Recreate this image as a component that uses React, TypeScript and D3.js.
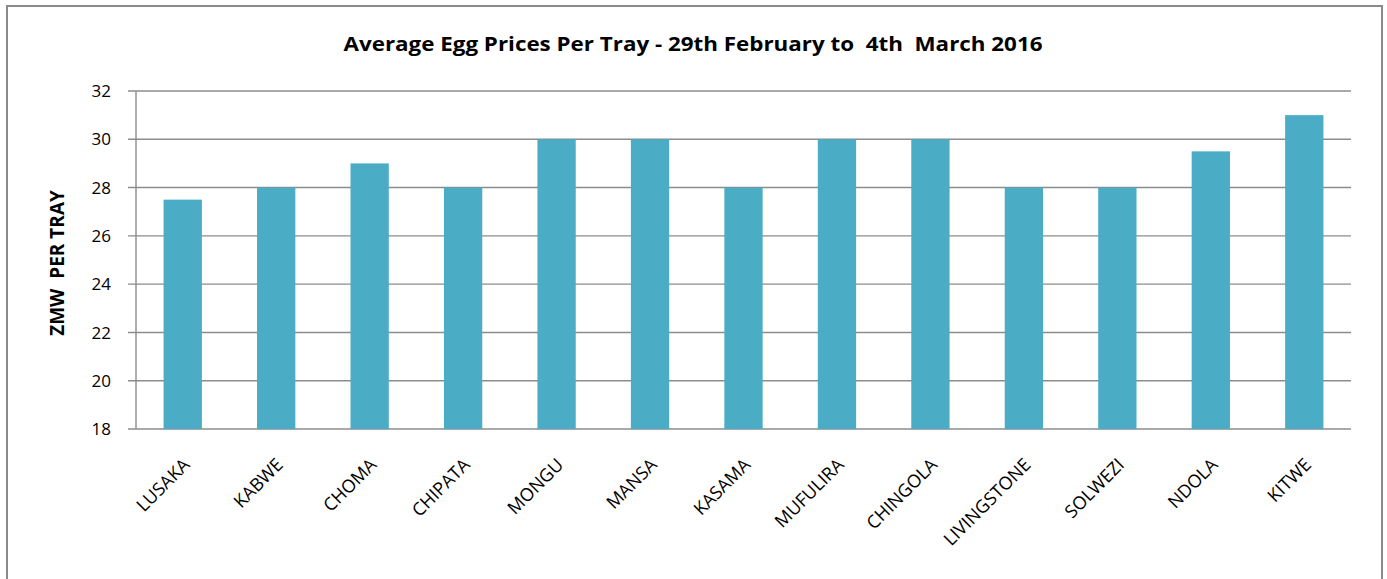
import React, { useEffect, useRef } from "react";
import * as d3 from "d3";

// chart values
const towns = [
  "LUSAKA",
  "KABWE",
  "CHOMA",
  "CHIPATA",
  "MONGU",
  "MANSA",
  "KASAMA",
  "MUFULIRA",
  "CHINGOLA",
  "LIVINGSTONE",
  "SOLWEZI",
  "NDOLA",
  "KITWE",
];
const prices = [27.5, 28, 29, 28, 30, 30, 28, 30, 30, 28, 28, 29.5, 31];
const yTicks = [18, 20, 22, 24, 26, 28, 30, 32];

const title = "Average Egg Prices Per Tray - 29th February to  4th  March 2016";
const yLabel = "ZMW  PER TRAY";

const W = 1387;
const H = 579;
const FONT = "'Open Sans', 'DejaVu Sans', sans-serif";

const App = () => {
  const svgRef = useRef(null);

  useEffect(() => {
    const svg = d3.select(svgRef.current);
    svg.selectAll("*").remove();

    const plot = { left: 136, right: 1351, top: 91, bottom: 429 };

    // outer frame
    svg
      .append("rect")
      .attr("x", 7)
      .attr("y", 6)
      .attr("width", 1375)
      .attr("height", H + 20)
      .attr("fill", "#fff")
      .attr("stroke", "#8a8a8a")
      .attr("stroke-width", 2);

    const x = d3
      .scaleBand()
      .domain(towns)
      .range([plot.left, plot.right])
      .paddingInner(0.59)
      .paddingOuter(0.295);

    const y = d3.scaleLinear().domain([18, 32]).range([plot.bottom, plot.top]);

    // gridlines + tick marks
    svg
      .append("g")
      .selectAll("line")
      .data(yTicks)
      .join("line")
      .attr("x1", plot.left - 8)
      .attr("x2", plot.right)
      .attr("y1", (d) => y(d))
      .attr("y2", (d) => y(d))
      .attr("stroke", "#8c8c8c")
      .attr("stroke-width", 1.4);

    // y axis line
    svg
      .append("line")
      .attr("x1", plot.left)
      .attr("x2", plot.left)
      .attr("y1", plot.top)
      .attr("y2", plot.bottom)
      .attr("stroke", "#8c8c8c")
      .attr("stroke-width", 1.4);

    // bars
    svg
      .append("g")
      .selectAll("rect")
      .data(towns)
      .join("rect")
      .attr("x", (d) => x(d))
      .attr("width", x.bandwidth())
      .attr("y", (d, i) => y(prices[i]))
      .attr("height", (d, i) => y(18) - y(prices[i]))
      .attr("fill", "#4bacc6");

    // y tick labels
    svg
      .append("g")
      .selectAll("text")
      .data(yTicks)
      .join("text")
      .attr("x", plot.left - 25)
      .attr("y", (d) => y(d))
      .attr("dy", "0.36em")
      .attr("text-anchor", "end")
      .style("font-family", FONT)
      .style("font-size", "17px")
      .attr("fill", "#000")
      .text((d) => d);

    // x tick labels
    svg
      .append("g")
      .selectAll("text")
      .data(towns)
      .join("text")
      .attr(
        "transform",
        (d) => `translate(${x(d) + x.bandwidth() / 2 + 8},${plot.bottom + 37}) rotate(-45)`
      )
      .attr("text-anchor", "end")
      .style("font-family", FONT)
      .style("font-size", "18px")
      .attr("fill", "#000")
      .text((d) => d);

    // y label
    svg
      .append("text")
      .attr("transform", `translate(64,263) rotate(-90)`)
      .attr("text-anchor", "middle")
      .style("font-family", FONT)
      .style("font-size", "19px")
      .style("font-weight", "bold")
      .style("white-space", "pre")
      .text(yLabel);

    // title
    svg
      .append("text")
      .attr("x", 693)
      .attr("y", 51)
      .attr("text-anchor", "middle")
      .attr("textLength", 699)
      .attr("lengthAdjust", "spacingAndGlyphs")
      .style("font-family", FONT)
      .style("font-size", "20px")
      .style("font-weight", "bold")
      .style("white-space", "pre")
      .text(title);
  }, []);

  return (
    <svg
      ref={svgRef}
      width={W}
      height={H}
      style={{ position: "absolute", left: 0, top: 0, display: "block" }}
    />
  );
};

export default App;
